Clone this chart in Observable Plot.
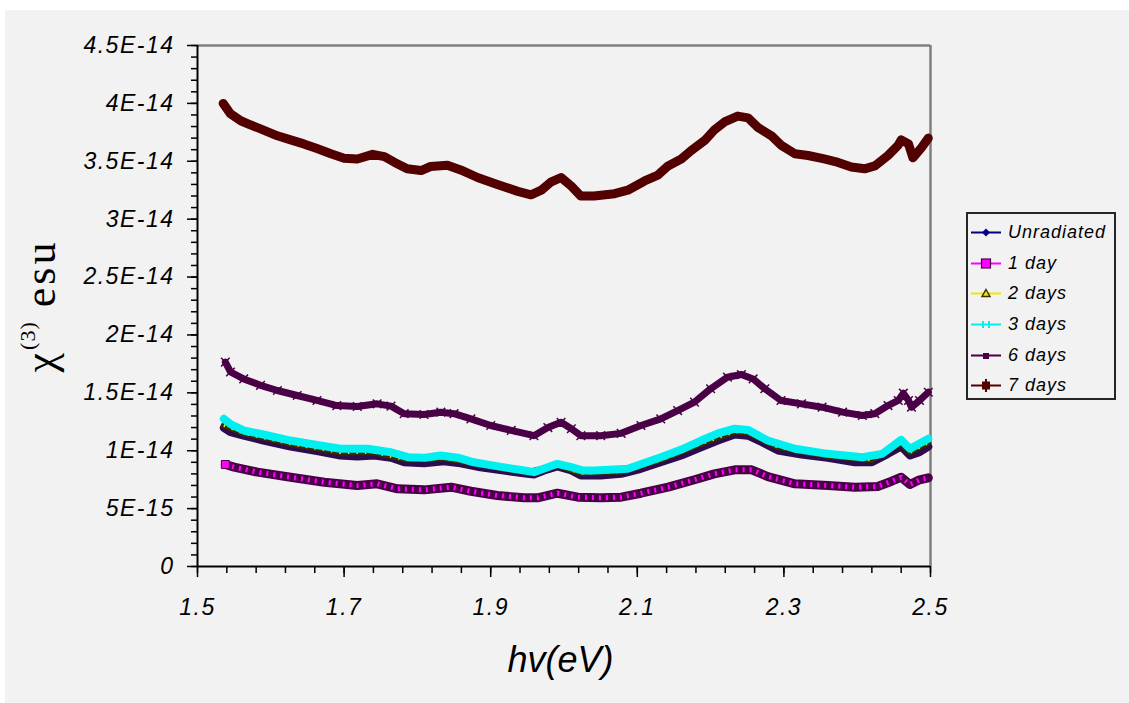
<!DOCTYPE html>
<html>
<head>
<meta charset="utf-8">
<script src="https://cdn.jsdelivr.net/npm/d3@7"></script>
<script src="https://cdn.jsdelivr.net/npm/@observablehq/plot@0.6"></script>
<style>
  html, body { margin: 0; padding: 0; background: #ffffff; }
  body { width: 1129px; height: 703px; position: relative; overflow: hidden; }
  #panel { position: absolute; left: 5px; top: 10px; width: 1124px; height: 693px; background: #f2f2f2; }
  #chart { position: absolute; left: 0; top: 0; }
  #chart svg { overflow: visible; }
  #chart svg text { letter-spacing: 1.5px; }
  .title { position: absolute; font-family: "Liberation Sans", Arial, sans-serif; color: #000; white-space: nowrap; }
  #xtitle { left: -4px; width: 1129px; text-align: center; top: 639px; font-size: 36px; font-style: italic; }
  #ytitle { font-family: "Liberation Serif", "Times New Roman", serif; font-size: 44px; letter-spacing: 3px; left: 40px; top: 306px;
            transform: translate(-50%, -50%) rotate(-90deg); }
  #ytitle sup { font-size: 22px; vertical-align: 20px; letter-spacing: 1px; }
  #legend { position: absolute; left: 966px; top: 212px; width: 146px; height: 184px; border: 2px solid #262626;
            font-family: "Liberation Sans", Arial, sans-serif; font-style: italic; font-size: 18px; letter-spacing: 1px; }
  .row { position: absolute; left: 0; height: 24px; display: flex; align-items: center; }
  .row svg { margin-left: 3px; margin-right: 7px; }
</style>
</head>
<body>
<div id="panel"></div>
<div id="chart"></div>
<div id="xtitle" class="title">hv(eV)</div>
<div id="ytitle" class="title">χ<sup>(3)</sup> esu</div>
<div id="legend"></div>
<script>
// Third-order susceptibility χ(3) (in units of 1E-14 esu) against photon energy hν (eV)

const seriesNames = ["Unradiated", "1 day", "2 days", "3 days", "6 days", "7 days"];

const energyUnradiated = [1.536,1.545,1.563,1.590,1.627,1.663,1.695,1.718,1.741,1.764,1.782,1.809,1.836,1.859,1.886,1.918,1.950,1.959,1.973,1.991,2.010,2.023,2.050,2.078,2.105,2.132,2.160,2.187,2.210,2.233,2.251,2.270,2.292,2.324,2.360,2.397,2.420,2.442,2.460,2.472,2.485,2.497];
const chiUnradiated    = [1.198,1.160,1.130,1.088,1.036,0.996,0.959,0.950,0.959,0.939,0.900,0.892,0.909,0.892,0.857,0.829,0.800,0.795,0.829,0.864,0.830,0.786,0.786,0.800,0.844,0.900,0.959,1.030,1.088,1.140,1.130,1.074,1.002,0.967,0.939,0.900,0.900,0.973,1.036,0.959,0.987,1.036];

const energyDay1 = [1.538,1.550,1.582,1.627,1.673,1.718,1.745,1.773,1.809,1.846,1.873,1.909,1.946,1.964,1.991,2.019,2.050,2.078,2.105,2.142,2.178,2.205,2.233,2.256,2.278,2.315,2.360,2.397,2.428,2.447,2.460,2.472,2.485,2.497];
const chiDay1    = [0.881,0.858,0.815,0.771,0.728,0.700,0.714,0.671,0.662,0.685,0.650,0.613,0.593,0.593,0.633,0.599,0.593,0.599,0.633,0.685,0.749,0.800,0.835,0.835,0.777,0.714,0.700,0.685,0.691,0.737,0.771,0.708,0.749,0.766];

const energyDay2 = [1.536,1.563,1.627,1.695,1.741,1.782,1.836,1.886,1.950,1.991,2.023,2.078,2.132,2.187,2.233,2.251,2.292,2.360,2.420,2.460,2.472,2.497];
const chiDay2    = [1.220,1.150,1.060,0.985,0.985,0.925,0.935,0.880,0.815,0.875,0.805,0.820,0.920,1.060,1.165,1.155,1.030,0.955,0.920,1.065,0.985,1.070];

const energyDay3 = [1.536,1.545,1.563,1.590,1.627,1.663,1.695,1.732,1.764,1.787,1.810,1.832,1.855,1.877,1.910,1.946,1.959,1.975,1.991,2.010,2.025,2.041,2.087,2.132,2.160,2.187,2.210,2.233,2.251,2.278,2.315,2.360,2.407,2.434,2.460,2.472,2.497];
const chiDay3    = [1.276,1.230,1.175,1.140,1.088,1.050,1.017,1.017,0.987,0.944,0.940,0.959,0.940,0.900,0.865,0.829,0.815,0.850,0.887,0.858,0.830,0.829,0.844,0.944,1.010,1.088,1.150,1.190,1.180,1.088,1.017,0.973,0.944,0.973,1.094,1.017,1.103];

const energyDay6 = [1.538,1.545,1.563,1.586,1.609,1.636,1.663,1.690,1.718,1.745,1.764,1.782,1.809,1.832,1.850,1.873,1.900,1.928,1.959,1.978,1.996,2.010,2.023,2.050,2.078,2.105,2.132,2.155,2.178,2.200,2.223,2.242,2.258,2.274,2.296,2.324,2.352,2.380,2.407,2.424,2.442,2.456,2.463,2.470,2.474,2.485,2.497];
const chiDay6    = [1.765,1.680,1.620,1.565,1.520,1.477,1.434,1.390,1.382,1.405,1.385,1.320,1.313,1.333,1.320,1.275,1.218,1.175,1.130,1.200,1.246,1.190,1.130,1.130,1.150,1.218,1.275,1.347,1.420,1.535,1.635,1.658,1.620,1.535,1.434,1.405,1.376,1.333,1.304,1.320,1.390,1.434,1.497,1.434,1.376,1.434,1.505];

const energyDay7 = [1.535,1.545,1.559,1.572,1.586,1.609,1.627,1.645,1.663,1.682,1.700,1.718,1.739,1.755,1.769,1.786,1.805,1.818,1.841,1.859,1.882,1.909,1.937,1.955,1.969,1.982,1.996,2.010,2.023,2.041,2.069,2.087,2.110,2.128,2.142,2.160,2.173,2.192,2.205,2.219,2.237,2.251,2.265,2.283,2.296,2.315,2.333,2.355,2.374,2.392,2.410,2.424,2.442,2.456,2.460,2.470,2.476,2.488,2.497];
const chiDay7    = [4.000,3.910,3.850,3.815,3.780,3.720,3.685,3.650,3.610,3.565,3.527,3.520,3.560,3.540,3.490,3.435,3.420,3.455,3.465,3.425,3.360,3.300,3.240,3.210,3.250,3.320,3.360,3.285,3.200,3.200,3.220,3.250,3.330,3.380,3.460,3.520,3.590,3.680,3.770,3.840,3.890,3.875,3.790,3.720,3.640,3.565,3.550,3.520,3.490,3.450,3.435,3.460,3.550,3.640,3.685,3.650,3.530,3.620,3.700];

// Axis ticks and their printed labels
const xTickValues = [1.5, 1.7, 1.9, 2.1, 2.3, 2.5];
const xTickLabels = ["1.5", "1.7", "1.9", "2.1", "2.3", "2.5"];
const yTickValues = [0, 0.5, 1, 1.5, 2, 2.5, 3, 3.5, 4, 4.5];
const yTickLabels = ["0", "5E-15", "1E-14", "1.5E-14", "2E-14", "2.5E-14", "3E-14", "3.5E-14", "4E-14", "4.5E-14"];
const xMinor = d3.range(0, 26).map(i => 1.5 + i * 0.04);
const yMinor = d3.range(0, 46).map(i => i * 0.1);

const rows = (name, es, cs) => es.map((e, i) => ({series: name, e, chi: cs[i]}));
const unradiated = rows("Unradiated", energyUnradiated, chiUnradiated);
const day1 = rows("1 day", energyDay1, chiDay1);
const day2 = rows("2 days", energyDay2, chiDay2);
const day3 = rows("3 days", energyDay3, chiDay3);
const day6 = rows("6 days", energyDay6, chiDay6);
const day7 = rows("7 days", energyDay7, chiDay7);

const col = {
  unradiated: "#2e0a4e",
  day1Edge: "#4a0046", day1Fill: "#ff00ff",
  day2: "#f2e600",
  day3: "#00f0f0",
  day6: "#4a0046",
  day7: "#520000"
};

const band = {x: "e", y: "chi", strokeLinejoin: "round", strokeLinecap: "round", curve: "linear"};

const chart = Plot.plot({
  width: 1129,
  height: 703,
  marginLeft: 197,
  marginRight: 199,
  marginTop: 45,
  marginBottom: 137,
  x: {domain: [1.5, 2.5]},
  y: {domain: [0, 4.5]},
  style: {background: "transparent", fontFamily: "'Liberation Sans', Arial, sans-serif", fontSize: "23px", fontStyle: "italic", color: "#000", overflow: "visible"},
  marks: [
    // plot-area frame: grey top and right edges
    Plot.ruleY([4.5], {stroke: "#7f7f7f", strokeWidth: 2.5}),
    Plot.ruleX([2.5], {stroke: "#7f7f7f", strokeWidth: 2.5}),

    // series, in drawing order
    Plot.line(unradiated, {...band, stroke: col.unradiated, strokeWidth: 8}),
    Plot.line(day1, {...band, stroke: col.day1Edge, strokeWidth: 9}),
    Plot.line(day1, {...band, stroke: col.day1Fill, strokeWidth: 5, strokeDasharray: "2 5", strokeLinecap: "butt"}),
    Plot.dot(day1.slice(0, 1), {x: "e", y: "chi", symbol: "square", r: 4.5, fill: col.day1Fill, stroke: col.day1Edge, strokeWidth: 1}),
    Plot.line(day2, {...band, stroke: "#3a2a00", strokeWidth: 6}),
    Plot.line(day2, {...band, stroke: col.day2, strokeWidth: 3, strokeDasharray: "1.5 7", strokeLinecap: "butt"}),
    Plot.line(day3, {...band, stroke: col.day3, strokeWidth: 8}),
    Plot.line(day6, {...band, stroke: col.day6, strokeWidth: 7}),
    Plot.dot(day6, {x: "e", y: "chi", symbol: "times", r: 4, stroke: col.day6, strokeWidth: 1.5}),
    Plot.line(day7, {...band, stroke: col.day7, strokeWidth: 9}),

    // axes
    Plot.axisY(yMinor, {tickSize: 6, tickFormat: () => "", label: null, strokeWidth: 1.5}),
    Plot.axisY(yTickValues, {tickSize: 10, tickPadding: 13, label: null, strokeWidth: 1.5,
      tickFormat: d => yTickLabels[yTickValues.findIndex(v => Math.abs(v - d) < 1e-9)]}),
    Plot.axisX(xMinor, {tickSize: 7, tickFormat: () => "", label: null, strokeWidth: 1.5}),
    Plot.axisX(xTickValues, {tickSize: 11, tickPadding: 21, label: null, strokeWidth: 1.5,
      tickFormat: d => xTickLabels[xTickValues.findIndex(v => Math.abs(v - d) < 1e-9)]}),
    Plot.ruleX([1.5], {stroke: "#000", strokeWidth: 2}),
    Plot.ruleY([0], {stroke: "#000", strokeWidth: 2})
  ]
});
document.getElementById("chart").appendChild(chart);

// Legend: line sample with marker, then the series name
const markers = {
  "Unradiated": `<path d="M15,7.5 L19,11.5 L15,15.5 L11,11.5 Z" fill="#000080"/>`,
  "1 day": `<rect x="10.5" y="7" width="9" height="9" fill="#ff00ff" stroke="#4a0046" stroke-width="1.2"/>`,
  "2 days": `<path d="M15,7.5 L19,14.5 L11,14.5 Z" fill="#f2e600" stroke="#3a2a00" stroke-width="1.4"/>`,
  "3 days": `<path d="M12,8 L12,15 M18,8 L18,15" stroke="#00f0f0" stroke-width="2"/>`,
  "6 days": `<rect x="12" y="9" width="6" height="6" fill="#4a0046"/>`,
  "7 days": `<rect x="11" y="7.5" width="8" height="8" fill="#520000"/><path d="M15,5 L15,18" stroke="#520000" stroke-width="2"/>`
};
const lineColor = {"Unradiated": "#000080", "1 day": "#ff00ff", "2 days": "#f2e600", "3 days": "#00f0f0", "6 days": "#4a0046", "7 days": "#520000"};
const rowTops = [6, 37, 67, 98, 129, 159];
const legend = document.getElementById("legend");
seriesNames.forEach((name, i) => {
  const row = document.createElement("div");
  row.className = "row";
  row.style.top = rowTops[i] + "px";
  row.innerHTML = `<svg width="30" height="23"><line x1="0" y1="11.5" x2="30" y2="11.5" stroke="${lineColor[name]}" stroke-width="2"/>${markers[name]}</svg><span>${name}</span>`;
  legend.appendChild(row);
});
</script>
</body>
</html>
